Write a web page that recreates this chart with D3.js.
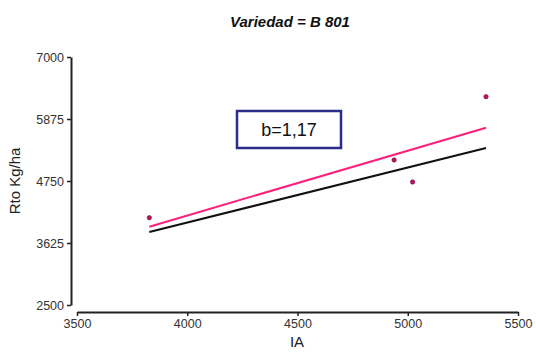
<!DOCTYPE html>
<html>
<head>
<meta charset="utf-8">
<script src="https://cdn.jsdelivr.net/npm/d3@7"></script>
<style>
  body { margin: 0; background: #fff; }
  svg { display: block; font-family: Arial, "Liberation Sans", sans-serif; }
  .tick text { fill: #333; font-size: 12.5px; }
</style>
</head>
<body>
<div id="chart"></div>
<script>
// observed data
var ia = [3828, 4938, 5022, 5355];
var rto = [4084, 5131, 4732, 6280];
// fitted lines (endpoints in data units)
var fitX = [3828, 5355];
var fitPink = [3921, 5717];
var fitBlack = [3825, 5349];
var xTicks = [3500, 4000, 4500, 5000, 5500];
var yTicks = [2500, 3625, 4750, 5875, 7000];

var W = 536, H = 352;
var x = d3.scaleLinear().domain([3500, 5500]).range([77, 518]);
var y = d3.scaleLinear().domain([2500, 7000]).range([305, 57]);

var svg = d3.select("#chart").append("svg")
    .attr("width", W).attr("height", H);

// axes (detached, like the original)
var gx = svg.append("g")
    .attr("transform", "translate(0,312)")
    .call(d3.axisBottom(x).tickValues(xTicks).tickFormat(d3.format("d"))
      .tickSize(4).tickPadding(3).tickSizeOuter(0));
var gy = svg.append("g")
    .attr("transform", "translate(71,0)")
    .call(d3.axisLeft(y).tickValues(yTicks).tickFormat(d3.format("d"))
      .tickSize(4).tickPadding(3).tickSizeOuter(0));
[gx, gy].forEach(function(g) {
  g.select(".domain").attr("stroke", "#222").attr("stroke-width", 2);
  g.selectAll(".tick line").attr("stroke", "#222").attr("stroke-width", 1.5);
});

// title and axis labels
svg.append("text")
    .attr("x", 290).attr("y", 27)
    .attr("text-anchor", "middle")
    .style("font-size", "15px").style("font-weight", "bold").style("font-style", "italic")
    .attr("fill", "#111")
    .text("Variedad = B 801");
svg.append("text")
    .attr("x", 297).attr("y", 347)
    .attr("text-anchor", "middle")
    .style("font-size", "15px").attr("fill", "#222")
    .text("IA");
svg.append("text")
    .attr("transform", "translate(20,181) rotate(-90)")
    .attr("text-anchor", "middle")
    .style("font-size", "15px").attr("fill", "#222")
    .text("Rto Kg/ha");

// regression lines
var line = d3.line().x(function(d) { return x(d[0]); }).y(function(d) { return y(d[1]); });
svg.append("path")
    .attr("d", line(d3.zip(fitX, fitBlack)))
    .attr("fill", "none").attr("stroke", "#111").attr("stroke-width", 2);
svg.append("path")
    .attr("d", line(d3.zip(fitX, fitPink)))
    .attr("fill", "none").attr("stroke", "#ff1f7a").attr("stroke-width", 2);

// points
svg.selectAll("circle.pt")
    .data(d3.zip(ia, rto))
  .enter().append("circle")
    .attr("class", "pt")
    .attr("cx", function(d) { return x(d[0]); })
    .attr("cy", function(d) { return y(d[1]); })
    .attr("r", 2.2)
    .attr("fill", "#c0105c")
    .attr("stroke", "#6a1040").attr("stroke-width", 0.6);

// slope label box
svg.append("rect")
    .attr("x", 237).attr("y", 111)
    .attr("width", 104).attr("height", 37)
    .attr("fill", "#fff")
    .attr("stroke", "#2b2b8a").attr("stroke-width", 2.5);
svg.append("text")
    .attr("x", 289).attr("y", 136)
    .attr("text-anchor", "middle")
    .style("font-size", "18px").attr("fill", "#111")
    .text("b=1,17");
</script>
</body>
</html>
